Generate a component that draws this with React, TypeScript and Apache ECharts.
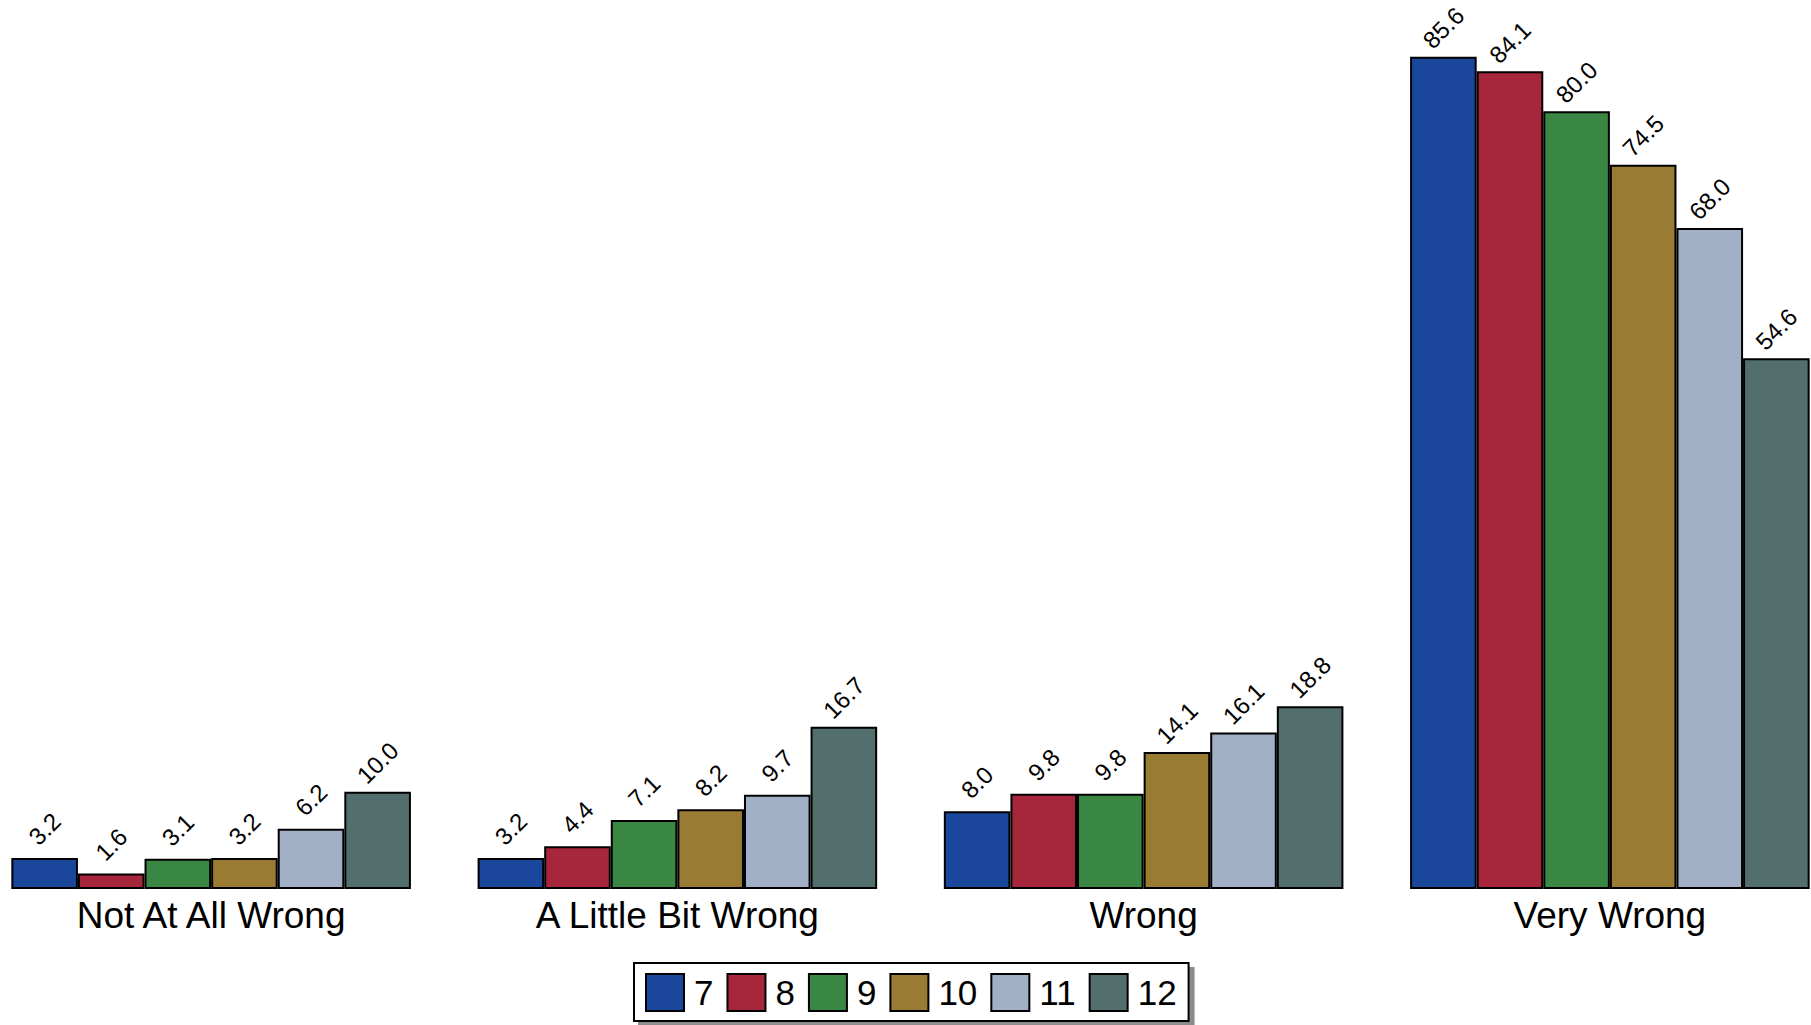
import React, { useEffect, useRef } from "react";
import * as echarts from "echarts";

const categories = ["Not At All Wrong", "A Little Bit Wrong", "Wrong", "Very Wrong"];
const seriesNames = ["7", "8", "9", "10", "11", "12"];
const grade7 = [3.2, 3.2, 8.0, 85.6];
const grade8 = [1.6, 4.4, 9.8, 84.1];
const grade9 = [3.1, 7.1, 9.8, 80.0];
const grade10 = [3.2, 8.2, 14.1, 74.5];
const grade11 = [6.2, 9.7, 16.1, 68.0];
const grade12 = [10.0, 16.7, 18.8, 54.6];
const seriesValues = [grade7, grade8, grade9, grade10, grade11, grade12];
const colors = ["#1A479B", "#A6273C", "#398742", "#9A7B34", "#A2B0C7", "#526F6E"];

const FONT = "Liberation Sans, Arial, sans-serif";

export default function App() {
  const ref = useRef<HTMLDivElement>(null);
  useEffect(() => {
    if (!ref.current) return;
    const chart = echarts.init(ref.current, undefined, { renderer: "svg" });
    chart.setOption({
      animation: false,
      backgroundColor: "#ffffff",
      textStyle: { fontFamily: FONT },
      grid: { left: 0, right: 0, top: 14, bottom: 136, containLabel: false },
      xAxis: {
        type: "category",
        data: categories,
        axisLine: { show: false },
        axisTick: { show: false },
        axisLabel: { color: "#000", fontSize: 37, fontFamily: FONT, margin: 8 },
      },
      yAxis: {
        type: "value",
        min: 0,
        max: 90,
        show: false,
        splitLine: { show: false },
      },
      legend: {
        data: seriesNames,
        left: 656,
        top: 963,
        orient: "horizontal",
        icon: "rect",
        itemWidth: 38,
        itemHeight: 37,
        itemGap: 13,
        padding: [10, 12, 9, 11],
        backgroundColor: "#ffffff",
        borderColor: "#000",
        borderWidth: 2,
        shadowColor: "rgba(0,0,0,0.45)",
        shadowBlur: 0,
        shadowOffsetX: 5,
        shadowOffsetY: 5,
        textStyle: { color: "#000", fontSize: 35, fontFamily: FONT, padding: [0, 0, 0, 5] },
      },
      series: seriesValues.map((vals, i) => ({
        name: seriesNames[i],
        type: "bar",
        data: vals,
        barGap: "0%",
        barCategoryGap: "14.3%",
        itemStyle: { color: colors[i], borderColor: "#000", borderWidth: 2 },
        label: {
          show: true,
          position: "top",
          rotate: 45,
          align: "center",
          verticalAlign: "middle",
          distance: 29,
          fontSize: 24,
          color: "#000",
          fontFamily: FONT,
          formatter: (p: any) => Number(p.value).toFixed(1),
        },
      })),
    });
    return () => chart.dispose();
  }, []);
  return (
    <div
      ref={ref}
      style={{ position: "fixed", left: -22, top: 0, width: 1865, height: 1025 }}
    />
  );
}
